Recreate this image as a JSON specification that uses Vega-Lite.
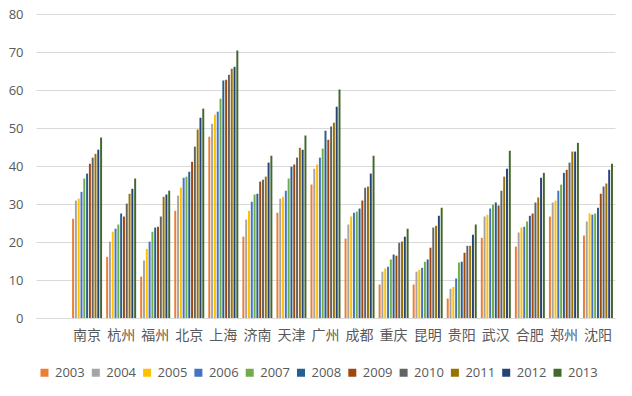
{
  "$schema": "https://vega.github.io/schema/vega-lite/v6.json",
  "autosize": "none",
  "width": 579,
  "height": 304,
  "padding": {"left": 36, "top": 14, "right": 17, "bottom": 78},
  "background": "white",
  "config": {
    "view": {"stroke": null},
    "font": "Noto Sans CJK SC"
  },
  "datasets": {
    "d": [
      {"city":"南京","year":"2003","v":26.1},{"city":"南京","year":"2004","v":30.9},{"city":"南京","year":"2005","v":31.4},{"city":"南京","year":"2006","v":33.2},{"city":"南京","year":"2007","v":36.7},{"city":"南京","year":"2008","v":38.0},{"city":"南京","year":"2009","v":40.6},{"city":"南京","year":"2010","v":42.2},{"city":"南京","year":"2011","v":43.2},{"city":"南京","year":"2012","v":44.3},{"city":"南京","year":"2013","v":47.5},
      {"city":"杭州","year":"2003","v":16.1},{"city":"杭州","year":"2004","v":20.1},{"city":"杭州","year":"2005","v":22.7},{"city":"杭州","year":"2006","v":23.5},{"city":"杭州","year":"2007","v":24.6},{"city":"杭州","year":"2008","v":27.5},{"city":"杭州","year":"2009","v":26.7},{"city":"杭州","year":"2010","v":30.1},{"city":"杭州","year":"2011","v":32.7},{"city":"杭州","year":"2012","v":34.0},{"city":"杭州","year":"2013","v":36.7},
      {"city":"福州","year":"2003","v":10.9},{"city":"福州","year":"2004","v":15.1},{"city":"福州","year":"2005","v":18.2},{"city":"福州","year":"2006","v":20.1},{"city":"福州","year":"2007","v":22.7},{"city":"福州","year":"2008","v":23.8},{"city":"福州","year":"2009","v":24.0},{"city":"福州","year":"2010","v":26.7},{"city":"福州","year":"2011","v":31.9},{"city":"福州","year":"2012","v":32.5},{"city":"福州","year":"2013","v":33.5},
      {"city":"北京","year":"2003","v":28.2},{"city":"北京","year":"2004","v":32.2},{"city":"北京","year":"2005","v":34.3},{"city":"北京","year":"2006","v":36.9},{"city":"北京","year":"2007","v":37.2},{"city":"北京","year":"2008","v":38.5},{"city":"北京","year":"2009","v":41.1},{"city":"北京","year":"2010","v":45.1},{"city":"北京","year":"2011","v":49.6},{"city":"北京","year":"2012","v":52.7},{"city":"北京","year":"2013","v":55.1},
      {"city":"上海","year":"2003","v":47.7},{"city":"上海","year":"2004","v":51.1},{"city":"上海","year":"2005","v":53.5},{"city":"上海","year":"2006","v":54.3},{"city":"上海","year":"2007","v":57.7},{"city":"上海","year":"2008","v":62.5},{"city":"上海","year":"2009","v":62.7},{"city":"上海","year":"2010","v":64.0},{"city":"上海","year":"2011","v":65.6},{"city":"上海","year":"2012","v":66.1},{"city":"上海","year":"2013","v":70.4},
      {"city":"济南","year":"2003","v":21.4},{"city":"济南","year":"2004","v":25.9},{"city":"济南","year":"2005","v":28.2},{"city":"济南","year":"2006","v":30.6},{"city":"济南","year":"2007","v":32.5},{"city":"济南","year":"2008","v":32.7},{"city":"济南","year":"2009","v":35.9},{"city":"济南","year":"2010","v":36.4},{"city":"济南","year":"2011","v":37.2},{"city":"济南","year":"2012","v":40.9},{"city":"济南","year":"2013","v":42.7},
      {"city":"天津","year":"2003","v":27.7},{"city":"天津","year":"2004","v":31.4},{"city":"天津","year":"2005","v":31.9},{"city":"天津","year":"2006","v":33.5},{"city":"天津","year":"2007","v":36.7},{"city":"天津","year":"2008","v":39.8},{"city":"天津","year":"2009","v":40.4},{"city":"天津","year":"2010","v":42.2},{"city":"天津","year":"2011","v":44.8},{"city":"天津","year":"2012","v":44.3},{"city":"天津","year":"2013","v":48.0},
      {"city":"广州","year":"2003","v":35.1},{"city":"广州","year":"2004","v":39.3},{"city":"广州","year":"2005","v":40.4},{"city":"广州","year":"2006","v":42.2},{"city":"广州","year":"2007","v":44.6},{"city":"广州","year":"2008","v":49.3},{"city":"广州","year":"2009","v":46.9},{"city":"广州","year":"2010","v":50.4},{"city":"广州","year":"2011","v":51.4},{"city":"广州","year":"2012","v":55.6},{"city":"广州","year":"2013","v":60.1},
      {"city":"成都","year":"2003","v":20.9},{"city":"成都","year":"2004","v":24.6},{"city":"成都","year":"2005","v":26.7},{"city":"成都","year":"2006","v":27.7},{"city":"成都","year":"2007","v":28.0},{"city":"成都","year":"2008","v":28.8},{"city":"成都","year":"2009","v":30.9},{"city":"成都","year":"2010","v":34.3},{"city":"成都","year":"2011","v":34.6},{"city":"成都","year":"2012","v":38.0},{"city":"成都","year":"2013","v":42.7},
      {"city":"重庆","year":"2003","v":8.8},{"city":"重庆","year":"2004","v":12.2},{"city":"重庆","year":"2005","v":13.0},{"city":"重庆","year":"2006","v":13.5},{"city":"重庆","year":"2007","v":15.4},{"city":"重庆","year":"2008","v":16.7},{"city":"重庆","year":"2009","v":16.4},{"city":"重庆","year":"2010","v":19.8},{"city":"重庆","year":"2011","v":20.1},{"city":"重庆","year":"2012","v":21.4},{"city":"重庆","year":"2013","v":23.5},
      {"city":"昆明","year":"2003","v":8.8},{"city":"昆明","year":"2004","v":12.2},{"city":"昆明","year":"2005","v":12.7},{"city":"昆明","year":"2006","v":13.2},{"city":"昆明","year":"2007","v":14.8},{"city":"昆明","year":"2008","v":15.4},{"city":"昆明","year":"2009","v":18.5},{"city":"昆明","year":"2010","v":23.8},{"city":"昆明","year":"2011","v":24.3},{"city":"昆明","year":"2012","v":26.9},{"city":"昆明","year":"2013","v":29.0},
      {"city":"贵阳","year":"2003","v":5.1},{"city":"贵阳","year":"2004","v":7.7},{"city":"贵阳","year":"2005","v":8.2},{"city":"贵阳","year":"2006","v":10.4},{"city":"贵阳","year":"2007","v":14.6},{"city":"贵阳","year":"2008","v":14.8},{"city":"贵阳","year":"2009","v":17.2},{"city":"贵阳","year":"2010","v":19.0},{"city":"贵阳","year":"2011","v":19.0},{"city":"贵阳","year":"2012","v":21.9},{"city":"贵阳","year":"2013","v":24.6},
      {"city":"武汉","year":"2003","v":21.1},{"city":"武汉","year":"2004","v":26.7},{"city":"武汉","year":"2005","v":27.2},{"city":"武汉","year":"2006","v":28.8},{"city":"武汉","year":"2007","v":29.8},{"city":"武汉","year":"2008","v":30.4},{"city":"武汉","year":"2009","v":29.6},{"city":"武汉","year":"2010","v":33.5},{"city":"武汉","year":"2011","v":37.2},{"city":"武汉","year":"2012","v":39.3},{"city":"武汉","year":"2013","v":44.0},
      {"city":"合肥","year":"2003","v":18.8},{"city":"合肥","year":"2004","v":22.5},{"city":"合肥","year":"2005","v":23.8},{"city":"合肥","year":"2006","v":24.0},{"city":"合肥","year":"2007","v":25.4},{"city":"合肥","year":"2008","v":26.9},{"city":"合肥","year":"2009","v":27.5},{"city":"合肥","year":"2010","v":30.4},{"city":"合肥","year":"2011","v":31.7},{"city":"合肥","year":"2012","v":36.9},{"city":"合肥","year":"2013","v":38.2},
      {"city":"郑州","year":"2003","v":26.7},{"city":"郑州","year":"2004","v":30.4},{"city":"郑州","year":"2005","v":30.9},{"city":"郑州","year":"2006","v":33.5},{"city":"郑州","year":"2007","v":35.1},{"city":"郑州","year":"2008","v":38.2},{"city":"郑州","year":"2009","v":39.0},{"city":"郑州","year":"2010","v":40.9},{"city":"郑州","year":"2011","v":43.8},{"city":"郑州","year":"2012","v":43.8},{"city":"郑州","year":"2013","v":46.1},
      {"city":"沈阳","year":"2003","v":21.7},{"city":"沈阳","year":"2004","v":25.4},{"city":"沈阳","year":"2005","v":27.5},{"city":"沈阳","year":"2006","v":27.2},{"city":"沈阳","year":"2007","v":27.5},{"city":"沈阳","year":"2008","v":29.0},{"city":"沈阳","year":"2009","v":32.7},{"city":"沈阳","year":"2010","v":34.6},{"city":"沈阳","year":"2011","v":35.4},{"city":"沈阳","year":"2012","v":39.0},{"city":"沈阳","year":"2013","v":40.6}
    ]
  },
  "data": {"name": "d"},
  "mark": {"type": "bar"},
  "encoding": {
    "x": {
      "field": "city",
      "type": "nominal",
      "sort": null,
      "scale": {
        "domain": [" ","南京","杭州","福州","北京","上海","济南","天津","广州","成都","重庆","昆明","贵阳","武汉","合肥","郑州","沈阳"],
        "paddingInner": 0.12,
        "paddingOuter": 0.06
      },
      "axis": {
        "title": null,
        "labelAngle": 0,
        "ticks": false,
        "domain": true,
        "domainColor": "#d9d9d9",
        "labelFontSize": 14,
        "labelColor": "#595959",
        "labelPadding": 10,
        "labelFont": "Noto Sans CJK SC"
      }
    },
    "xOffset": {
      "field": "year",
      "type": "nominal",
      "scale": {"paddingInner": 0.3}
    },
    "y": {
      "field": "v",
      "type": "quantitative",
      "scale": {"domain": [0, 80], "nice": false},
      "axis": {
        "title": null,
        "values": [0,10,20,30,40,50,60,70,80],
        "domain": false,
        "ticks": false,
        "grid": true,
        "gridColor": "#d9d9d9",
        "gridWidth": 1,
        "labelColor": "#595959",
        "labelFontSize": 13,
        "labelFont": "Open Sans",
        "labelPadding": 13
      }
    },
    "color": {
      "field": "year",
      "type": "nominal",
      "scale": {
        "domain": ["2003","2004","2005","2006","2007","2008","2009","2010","2011","2012","2013"],
        "range": ["#ED7D31","#A5A5A5","#FFC000","#4472C4","#70AD47","#255E91","#9E480E","#636363","#997300","#264478","#43682B"]
      },
      "legend": {
        "title": null,
        "orient": "none",
        "direction": "horizontal",
        "columns": 11,
        "legendX": 2,
        "legendY": 352,
        "symbolType": "square",
        "symbolSize": 64,
        "symbolStrokeWidth": 0,
        "labelFontSize": 13,
        "labelColor": "#595959",
        "labelFont": "Open Sans",
        "columnPadding": 4.3,
        "labelOffset": 4
      }
    }
  }
}
